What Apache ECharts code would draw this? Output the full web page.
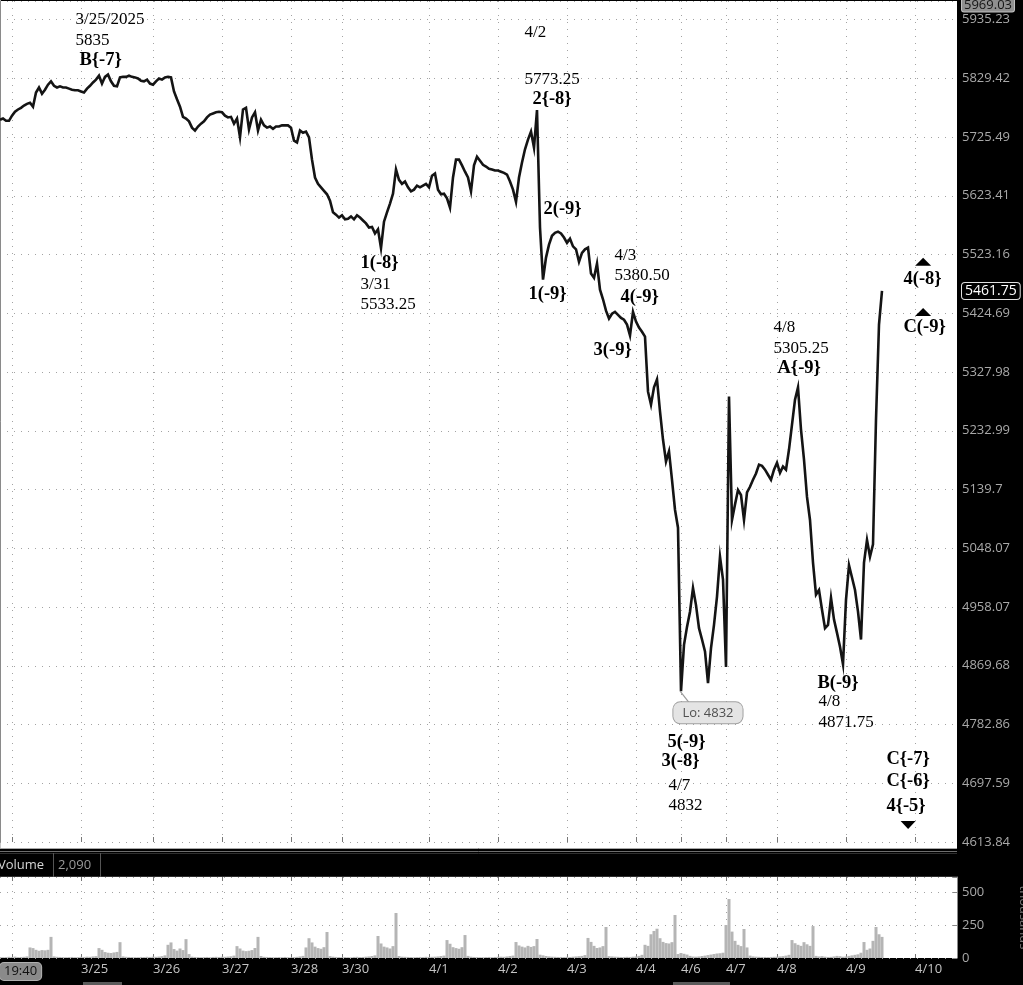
<!DOCTYPE html>
<html>
<head>
<meta charset="utf-8">
<title>ES futures chart</title>
<script src="https://cdn.jsdelivr.net/npm/echarts@6/dist/echarts.min.js"></script>
<style>
html,body{margin:0;padding:0;background:#000;}
#chart{width:1023px;height:985px;}
</style>
</head>
<body>
<div id="chart"></div>
<script>
// ---------------- data ----------------
const priceTickLabels = ['4613.84','4697.59','4782.86','4869.68','4958.07','5048.07','5139.7','5232.99','5327.98','5424.69','5523.16','5623.41','5725.49','5829.42','5935.23'];
const priceAxisTop = 5969.03;
const lastPrice = 5461.75;
const volumeTickStep = 250;
const volumeAxisTop = 614;
const volumeUnit = 'thousands';
const volumeHeader = ['Volume', '2,090'];
const sessionStartLabel = '19:40';
const totalSlots = 320;
const dateTickSlots  = [4, 27, 51, 74, 97, 114, 143, 166, 189, 212, 227, 242, 259, 282, 305];
const dateTickLabels = ['', '3/25', '3/26', '3/27', '3/28', '3/30', '4/1', '4/2', '4/3', '4/4', '4/6', '4/7', '4/8', '4/9', '4/10'];

const prices = [
 5756,5758,5754,5754,5763,5770,5774,5777,5781,5784,
 5786,5779,5804,5813,5802,5809,5818,5824,5816,5813,
 5815,5813,5813,5811,5809,5808,5808,5806,5804,5811,
 5816,5822,5827,5834,5820,5832,5836,5824,5816,5815,
 5831,5832,5832,5834,5832,5831,5829,5825,5824,5827,
 5820,5818,5824,5829,5827,5831,5832,5831,5806,5792,
 5779,5761,5758,5753,5742,5737,5744,5749,5753,5760,
 5765,5767,5769,5770,5769,5763,5760,5761,5749,5758,
 5725,5774,5777,5739,5760,5769,5737,5756,5746,5742,
 5744,5740,5744,5744,5746,5746,5746,5742,5719,5716,
 5737,5733,5735,5725,5686,5655,5644,5638,5632,5626,
 5615,5595,5591,5586,5590,5583,5584,5588,5583,5590,
 5586,5581,5576,5569,5570,5559,5566,5534,5579,5595,
 5610,5627,5669,5651,5644,5648,5638,5631,5634,5641,
 5638,5641,5644,5638,5658,5662,5634,5626,5627,5619,
 5603,5655,5686,5686,5676,5665,5655,5631,5676,5691,
 5684,5677,5674,5670,5669,5667,5667,5665,5663,5660,
 5648,5634,5613,5655,5681,5704,5721,5735,5707,5773,
 5569,5481,5518,5540,5555,5560,5562,5559,5552,5543,
 5550,5537,5532,5511,5526,5532,5535,5491,5484,5508,
 5464,5448,5429,5416,5424,5427,5422,5417,5414,5406,
 5388,5427,5411,5401,5394,5386,5296,5275,5303,5316,
 5264,5219,5184,5200,5155,5108,5080,4832,4901,4928,
 4951,4987,4961,4926,4909,4891,4844,4896,4931,4974,
 5035,5000,4868,5288,5092,5116,5139,5131,5092,5135,
 5144,5155,5165,5179,5177,5171,5163,5155,5171,5182,
 5166,5176,5171,5203,5243,5283,5303,5235,5187,5128,
 5092,5026,4977,4984,4954,4926,4931,4972,4939,4919,
 4898,4872,4969,5022,5003,4984,4951,4909,5026,5061,
 5035,5054,5251,5406,5462
];

const volumes = [
 8,6,7,9,8,10,7,8,9,12,
 80,75,62,55,60,58,62,160,
 12,9,8,7,6,7,8,6,7,9,8,10,9,12,14,
 75,62,45,40,38,42,46,120,12,
 9,8,7,6,6,8,7,9,8,10,9,11,14,20,
 100,118,68,56,72,60,143,30,
 10,8,7,6,7,8,6,8,9,8,10,9,11,13,18,
 90,72,56,52,55,60,76,160,15,
 9,8,7,6,6,7,6,8,6,5,7,9,12,16,
 80,150,118,86,75,70,82,197,14,
 10,8,7,6,7,6,5,8,9,7,8,10,12,15,20,
 167,110,86,80,72,90,341,15,
 10,9,8,7,6,7,8,7,9,8,9,10,12,15,18,
 136,108,82,75,70,82,174,16,
 10,8,7,6,6,7,8,6,8,9,10,9,12,15,18,
 121,95,86,80,92,84,90,144,25,20,15,
 12,10,9,8,8,7,9,8,10,12,14,16,22,
 152,122,92,76,80,90,235,14,
 12,10,9,8,8,9,8,10,12,16,24,
 100,92,180,205,222,150,122,113,110,120,326,30,
 38,32,26,16,11,10,12,15,18,22,26,30,34,36,40,
 250,447,200,130,100,90,220,80,18,
 12,10,9,8,8,7,8,9,10,12,14,18,24,
 136,112,100,92,120,104,92,242,16,
 12,14,10,8,9,12,16,14,10,12,16,20,24,28,40,
 121,62,72,130,235,180,160
];

const waveLabels = [
 {text:'3/25/2025', slot:25.0, price:5935, bold:false},
 {text:'5835',      slot:25.0, price:5897, bold:false},
 {text:'B{-7}',     slot:26.3, price:5861, bold:true},
 {text:'4/2',       slot:174.7, price:5912, bold:false},
 {text:'5773.25',   slot:174.7, price:5827, bold:false},
 {text:'2{-8}',     slot:177.3, price:5793, bold:true},
 {text:'1(-8}',     slot:120.0, price:5508, bold:true},
 {text:'3/31',      slot:120.0, price:5473, bold:false},
 {text:'5533.25',   slot:120.0, price:5439, bold:false},
 {text:'2(-9}',     slot:181.0, price:5601, bold:true},
 {text:'1(-9}',     slot:176.0, price:5457, bold:true},
 {text:'4/3',       slot:204.7, price:5521, bold:false},
 {text:'5380.50',   slot:204.7, price:5488, bold:false},
 {text:'4(-9}',     slot:206.7, price:5452, bold:true},
 {text:'3(-9}',     slot:197.7, price:5363, bold:true},
 {text:'4/8',       slot:257.7, price:5401, bold:false},
 {text:'5305.25',   slot:257.7, price:5366, bold:false},
 {text:'A{-9}',     slot:259.0, price:5335, bold:true},
 {text:'B(-9}',     slot:272.3, price:4844, bold:true},
 {text:'4/8',       slot:272.7, price:4816, bold:false},
 {text:'4871.75',   slot:272.7, price:4786, bold:false},
 {text:'5(-9}',     slot:222.3, price:4757, bold:true},
 {text:'3(-8}',     slot:220.3, price:4730, bold:true},
 {text:'4/7',       slot:222.7, price:4694, bold:false},
 {text:'4832',      slot:222.7, price:4666, bold:false},
 {text:'4(-8}',     slot:301.0, price:5481, bold:true},
 {text:'C(-9}',     slot:301.0, price:5401, bold:true},
 {text:'C{-7}',     slot:295.3, price:4732, bold:true},
 {text:'C{-6}',     slot:295.3, price:4700, bold:true},
 {text:'4{-5}',     slot:295.3, price:4664, bold:true}
];
const markerTriangles = [
 {slot:307.7, price:5511, dir:'up'},
 {slot:307.7, price:5427, dir:'up'},
 {slot:302.7, price:4638, dir:'down'}
];
const lowCallout = {text:'Lo: 4832', slot:224.3, price:4800, lowSlot:226.7, lowPrice:4832, tailSlot:229.7, tailPrice:4815};

// ------------- scale helpers (log price axis) -------------
const logBase = parseFloat(priceTickLabels[0]);
const logStep = Math.log(parseFloat(priceTickLabels[priceTickLabels.length - 1]) / logBase) / (priceTickLabels.length - 1);
const toAxis = p => Math.log(p / logBase) / logStep;
const axisTop = toAxis(priceAxisTop);

const tickSet = new Set(dateTickSlots);
const categories = Array.from({length: totalSlots}, () => '');
dateTickSlots.forEach((s, k) => { categories[s] = dateTickLabels[k]; });
categories[0] = sessionStartLabel;

const dotted = {color: '#a3a3a3', width: 1, type: [1, 6]};
const sans = 'Open Sans';
const serif = 'Liberation Serif';
const clear = 'rgba(0,0,0,0)';

const chart = echarts.init(document.getElementById('chart'), null, {width: 1023, height: 985});

const option = {
  animation: false,
  backgroundColor: '#000',
  grid: [
    {left: 0, right: 66, top: 1, height: 841, show: true, backgroundColor: '#fff', borderWidth: 0, containLabel: false, outerBoundsMode: 'none'},
    {left: 0, right: 66, top: 877, height: 81, show: true, backgroundColor: '#fff', borderWidth: 0, containLabel: false, outerBoundsMode: 'none'}
  ],
  xAxis: [
    {type: 'category', gridIndex: 0, data: categories, boundaryGap: false,
     axisLine: {show: false},
     axisTick: {show: true, inside: true, length: 5, interval: (i) => tickSet.has(i), lineStyle: {color: '#777'}},
     axisLabel: {show: false},
     splitLine: {show: true, interval: (i) => tickSet.has(i), lineStyle: dotted}},
    {type: 'category', gridIndex: 1, data: categories, boundaryGap: false,
     axisLine: {show: false},
     axisTick: {show: true, inside: true, length: 4, interval: (i) => tickSet.has(i), lineStyle: {color: '#777'}},
     axisLabel: {show: true, interval: (i, v) => v !== '', align: 'left', margin: 5, color: '#c4c4c4',
       fontFamily: sans, fontSize: 13,
       formatter: (v, i) => i === 0 ? '{box|' + v + '}' : v,
       rich: {box: {backgroundColor: '#8a8a8a', borderColor: '#b0b0b0', borderWidth: 1, borderRadius: 4,
         padding: [2, 4], color: '#111', fontFamily: sans, fontSize: 13}}},
     splitLine: {show: true, interval: (i) => tickSet.has(i), lineStyle: dotted}},
    {type: 'value', gridIndex: 0, min: 0, max: totalSlots - 1, show: false},
    {type: 'category', gridIndex: 1, data: categories, boundaryGap: false, position: 'top',
     axisLine: {show: false}, axisLabel: {show: false}, splitLine: {show: false},
     axisTick: {show: true, inside: true, length: 4, interval: (i) => tickSet.has(i), lineStyle: {color: '#777'}}}
  ],
  yAxis: [
    {type: 'value', gridIndex: 0, position: 'right', min: 0, max: axisTop, interval: 1,
     axisLine: {show: true, lineStyle: {color: '#8a8a8a'}},
     axisTick: {show: true, inside: true, length: 4, lineStyle: {color: '#888'}},
     axisLabel: {show: true, showMaxLabel: true, margin: 5, color: '#a9a9a9', fontFamily: sans, fontSize: 13,
       formatter: (v) => {
         const k = Math.round(v);
         if (Math.abs(v - k) < 1e-6 && priceTickLabels[k] !== undefined) return priceTickLabels[k];
         if (Math.abs(v - axisTop) < 1e-6) return '{top|' + priceAxisTop.toFixed(2) + '}';
         return '';
       },
       rich: {top: {backgroundColor: '#8f8f8f', borderColor: '#c0c0c0', borderWidth: 1, borderRadius: 2,
         padding: [8, 2, 0, 2], color: '#151515', fontFamily: sans, fontSize: 13}}},
     splitLine: {show: true, lineStyle: dotted}},
    {type: 'value', gridIndex: 1, position: 'right', min: 0, max: volumeAxisTop, interval: volumeTickStep,
     name: volumeUnit, nameLocation: 'middle', nameRotate: -90, nameGap: 60,
     nameTextStyle: {color: '#777', fontFamily: sans, fontSize: 13},
     axisLine: {show: true, lineStyle: {color: '#8a8a8a'}},
     axisTick: {show: true, inside: true, length: 4, lineStyle: {color: '#888'}},
     axisLabel: {show: true, margin: 5, color: '#a9a9a9', fontFamily: sans, fontSize: 13,
       formatter: (v) => (v % volumeTickStep === 0 ? String(v) : '')},
     splitLine: {show: true, lineStyle: dotted}}
  ],
  series: [
    {type: 'line', name: 'price', xAxisIndex: 0, yAxisIndex: 0, data: prices.map(toAxis),
     symbol: 'none', silent: true, lineStyle: {color: '#141414', width: 2.6, join: 'miter'}, z: 3,
     markLine: {silent: true, symbol: ['none', 'none'], lineStyle: {color: clear, width: 0, type: 'solid'},
       data: [{yAxis: toAxis(lastPrice)}],
       label: {show: true, position: 'end', distance: 5, formatter: () => lastPrice.toFixed(2),
         color: '#fff', backgroundColor: '#000', borderColor: '#e0e0e0', borderWidth: 1, borderRadius: 3,
         padding: [1, 3], fontFamily: sans, fontSize: 14, lineHeight: 14, opacity: 1}}},
    {type: 'bar', name: 'volume', xAxisIndex: 1, yAxisIndex: 1, data: volumes, barWidth: 3,
     silent: true, itemStyle: {color: '#b5b5b5'}},
    {type: 'scatter', name: 'waves', xAxisIndex: 2, yAxisIndex: 0, symbolSize: 1, silent: true, z: 5,
     itemStyle: {color: clear, opacity: 1},
     data: waveLabels.map(a => ({value: [a.slot, toAxis(a.price)],
       label: {show: true, position: 'right', distance: 0, formatter: () => a.text, color: '#000', opacity: 1,
         fontFamily: serif, fontSize: a.bold ? 18.5 : 17, fontWeight: a.bold ? 'bold' : 'normal'}}))},
    {type: 'scatter', name: 'triangles', xAxisIndex: 2, yAxisIndex: 0, symbol: 'triangle', silent: true, z: 5,
     itemStyle: {color: '#000', opacity: 1},
     data: markerTriangles.map(t => ({value: [t.slot, toAxis(t.price)], symbolSize: t.dir === 'up' ? [16, 8] : [15, 8],
       symbolRotate: t.dir === 'up' ? 0 : 180}))},
    {type: 'line', name: 'callout-tail', xAxisIndex: 2, yAxisIndex: 0, symbol: 'none', silent: true, z: 4,
     lineStyle: {color: '#9a9a9a', width: 1.2},
     data: [[lowCallout.lowSlot, toAxis(lowCallout.lowPrice)], [lowCallout.tailSlot, toAxis(lowCallout.tailPrice)]]},
    {type: 'scatter', name: 'callout', xAxisIndex: 2, yAxisIndex: 0, symbolSize: 1, silent: true, z: 6,
     itemStyle: {color: clear, opacity: 1},
     data: [{value: [lowCallout.slot, toAxis(lowCallout.price)],
       label: {show: true, position: 'right', distance: 0, formatter: () => lowCallout.text, opacity: 1,
         color: '#505050', backgroundColor: '#e4e4e4', borderColor: '#a0a0a0', borderWidth: 1, borderRadius: 7,
         padding: [2, 9], fontFamily: sans, fontSize: 13, lineHeight: 17}}]}
  ],
  graphic: [
    {type: 'rect', z: -1, shape: {x: 0, y: 842, width: 957, height: 6}, style: {fill: '#fff'}},
    {type: 'line', shape: {x1: 0, y1: 848.5, x2: 957, y2: 848.5}, style: {stroke: '#a8a8a8', lineWidth: 1}},
    {type: 'line', shape: {x1: 0, y1: 851.5, x2: 957, y2: 851.5}, style: {stroke: '#6e6e6e', lineWidth: 1}},
    {type: 'line', shape: {x1: 0.5, y1: 0, x2: 0.5, y2: 848}, style: {stroke: '#c8c8c8', lineWidth: 1}},
    {type: 'line', shape: {x1: 0, y1: 853.5, x2: 957, y2: 853.5}, style: {stroke: '#2e2e2e', lineWidth: 1}},
    {type: 'line', shape: {x1: 0, y1: 876.5, x2: 957, y2: 876.5}, style: {stroke: '#2e2e2e', lineWidth: 1}},
    {type: 'line', shape: {x1: 53.5, y1: 853, x2: 53.5, y2: 877}, style: {stroke: '#555', lineWidth: 1}},
    {type: 'line', shape: {x1: 100.5, y1: 853, x2: 100.5, y2: 877}, style: {stroke: '#555', lineWidth: 1}},
    {type: 'text', x: -2, y: 865, style: {text: volumeHeader[0], fill: '#d4d4d4', font: '13px "Open Sans"',
      textVerticalAlign: 'middle', verticalAlign: 'middle', textAlign: 'left', align: 'left'}},
    {type: 'text', x: 58, y: 865, style: {text: volumeHeader[1], fill: '#9a9a9a', font: '13px "Open Sans"',
      textVerticalAlign: 'middle', verticalAlign: 'middle', textAlign: 'left', align: 'left'}},
    {type: 'rect', shape: {x: 83, y: 982, width: 39, height: 3}, style: {fill: '#5a5a5a'}},
    {type: 'rect', shape: {x: 673, y: 982, width: 57, height: 3}, style: {fill: '#5a5a5a'}}
  ]
};
chart.setOption(option);
</script>
</body>
</html>
